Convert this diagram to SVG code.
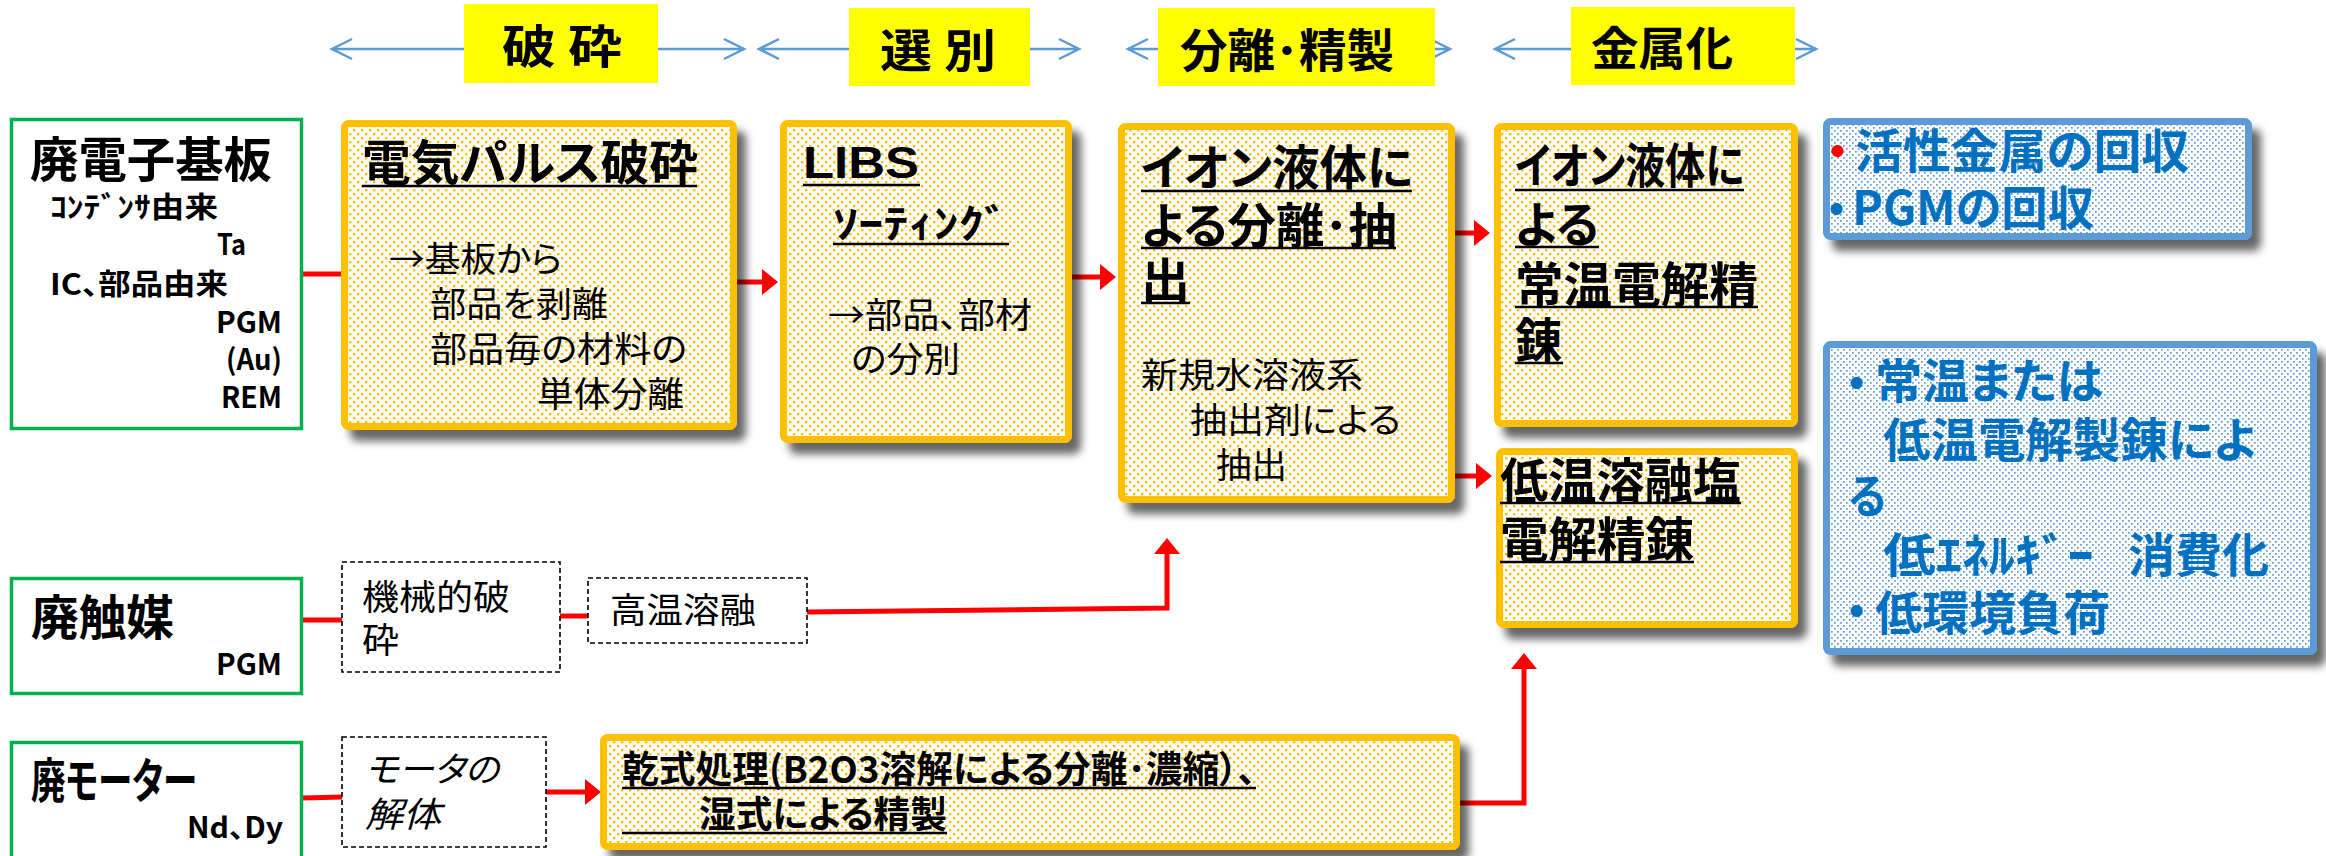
<svg xmlns="http://www.w3.org/2000/svg" width="2326" height="856" viewBox="0 0 2326 856">
<defs>
<style>
text{font-family:"Noto Sans CJK JP","Noto Sans CJK SC",sans-serif;font-feature-settings:"palt" 1;}
.b{font-weight:bold;}
.t48{font-size:48px;font-weight:bold;}
.t46{font-size:46px;font-weight:bold;}
.t29{font-size:29px;font-weight:bold;}
.t35{font-size:35px;}
.t37{font-size:37px;font-weight:bold;}
.blue{fill:#0070C0;font-size:47px;font-weight:bold;}
.green{fill:#fff;stroke:#00B050;stroke-width:3.5;}
.orange{fill:url(#dotO);stroke:#FFC000;stroke-width:7;filter:url(#sh);}
.bluebox{fill:url(#dotB);stroke:#5B9BD5;stroke-width:7;filter:url(#sh);}
.dash{fill:#fff;stroke:#000;stroke-width:1.6;stroke-dasharray:5 3;}
.yellow{fill:#FFFF00;}
.ul{stroke:#000;stroke-width:2.5;}
.red{fill:none;stroke:#FF0000;stroke-width:5;}
.hdr{fill:none;stroke:#5B9BD5;stroke-width:2.5;}
</style>
<pattern id="dotO" width="8" height="8" patternUnits="userSpaceOnUse">
<rect width="8" height="8" fill="#fff"/>
<rect x="1" y="1" width="2.4" height="2.4" fill="#FFC000"/>
<rect x="5" y="5" width="2.4" height="2.4" fill="#FFC000"/>
</pattern>
<pattern id="dotB" width="6" height="6" patternUnits="userSpaceOnUse">
<rect width="6" height="6" fill="#fff"/>
<rect x="1" y="1" width="1.7" height="1.7" fill="#5B9BD5"/>
<rect x="4" y="4" width="1.7" height="1.7" fill="#5B9BD5"/>
</pattern>
<filter id="sh" x="-10%" y="-10%" width="130%" height="140%">
<feDropShadow dx="9" dy="11" stdDeviation="4" flood-color="#000" flood-opacity="0.6"/>
</filter>
<marker id="ah" markerUnits="userSpaceOnUse" markerWidth="18" markerHeight="28" refX="0" refY="13" orient="auto">
<path d="M0,0 L16,13 L0,26 Z" fill="#FF0000"/>
</marker>
</defs>

<g id="header">
<path class="hdr" d="M332,49 H744 M352,39 L332,49 L352,59 M724,39 L744,49 L724,59"/>
<path class="hdr" d="M759,49 H1079 M779,39 L759,49 L779,59 M1059,39 L1079,49 L1059,59"/>
<path class="hdr" d="M1128,49 H1450 M1148,39 L1128,49 L1148,59 M1430,39 L1450,49 L1430,59"/>
<path class="hdr" d="M1495,49 H1816 M1515,39 L1495,49 L1515,59 M1796,39 L1816,49 L1796,59"/>
<g id="stage-crush"><rect class="yellow" x="464" y="4" width="194" height="79"/><text class="t46" x="502" y="63" textLength="120" lengthAdjust="spacingAndGlyphs">破 砕</text></g>
<g id="stage-sort"><rect class="yellow" x="849" y="8" width="181" height="78"/><text class="t46" x="880" y="67" textLength="116" lengthAdjust="spacingAndGlyphs">選 別</text></g>
<g id="stage-sep"><rect class="yellow" x="1158" y="8" width="277" height="78"/><text class="t46" x="1180" y="67" textLength="214" lengthAdjust="spacingAndGlyphs">分離･精製</text></g>
<g id="stage-metal"><rect class="yellow" x="1571" y="7" width="224" height="78"/><text class="t46" x="1591" y="65" textLength="142" lengthAdjust="spacingAndGlyphs">金属化</text></g>
</g>

<g id="connectors">
<path class="red" d="M303,274 H341"/>
<path class="red" d="M737,282 H762" marker-end="url(#ah)"/>
<path class="red" d="M1072,277 H1100" marker-end="url(#ah)"/>
<path class="red" d="M1455,233 H1474" marker-end="url(#ah)"/>
<path class="red" d="M1455,476 H1476" marker-end="url(#ah)"/>
<path class="red" d="M303,620 H342"/>
<path class="red" d="M560,616 H588"/>
<path class="red" d="M807,612 L1167,608 V554" marker-end="url(#ah)"/>
<path class="red" d="M303,798 L342,797"/>
<path class="red" d="M546,792 H585" marker-end="url(#ah)"/>
<path class="red" d="M1460,803 H1524 V669" marker-end="url(#ah)"/>
</g>

<g id="n-pcb">
<rect class="green" x="11.5" y="119.5" width="290" height="309"/>
<text class="t48" x="30" y="177" textLength="242" lengthAdjust="spacingAndGlyphs">廃電子基板</text>
<text class="t29" x="50" y="218" textLength="168" lengthAdjust="spacingAndGlyphs">ｺﾝﾃﾞﾝｻ由来</text>
<text class="t29" x="217" y="255" textLength="29" lengthAdjust="spacingAndGlyphs">Ta</text>
<text class="t29" x="50" y="295" textLength="178" lengthAdjust="spacingAndGlyphs">IC、部品由来</text>
<text class="t29" x="216" y="333" textLength="66" lengthAdjust="spacingAndGlyphs">PGM</text>
<text class="t29" x="226" y="370" textLength="56" lengthAdjust="spacingAndGlyphs">(Au)</text>
<text class="t29" x="221" y="408" textLength="61" lengthAdjust="spacingAndGlyphs">REM</text>
</g>

<g id="n-catalyst">
<rect class="green" x="11.5" y="578.5" width="290" height="115"/>
<text class="t48" x="31" y="635" textLength="143" lengthAdjust="spacingAndGlyphs">廃触媒</text>
<text class="t29" x="216" y="675" textLength="66" lengthAdjust="spacingAndGlyphs">PGM</text>
</g>

<g id="n-motor">
<rect class="green" x="11.5" y="742.5" width="290" height="130"/>
<text class="t48" x="31" y="798" textLength="166" lengthAdjust="spacingAndGlyphs">廃モーター</text>
<text class="t29" x="187" y="838" textLength="96" lengthAdjust="spacingAndGlyphs">Nd、Dy</text>
</g>

<g id="n-mech">
<rect class="dash" x="342" y="562" width="218" height="110"/>
<text class="t35" x="362" y="610" textLength="148" lengthAdjust="spacingAndGlyphs">機械的破</text>
<text class="t35" x="362" y="653" textLength="37" lengthAdjust="spacingAndGlyphs">砕</text>
</g>

<g id="n-melt">
<rect class="dash" x="588" y="578" width="219" height="65"/>
<text class="t35" x="610" y="623" textLength="146" lengthAdjust="spacingAndGlyphs">高温溶融</text>
</g>

<g id="n-dismantle">
<rect class="dash" x="342" y="737" width="204" height="110"/>
<text class="t35" x="365" y="782" font-style="italic" textLength="134" lengthAdjust="spacingAndGlyphs">モータの</text>
<text class="t35" x="365" y="827" font-style="italic" textLength="76" lengthAdjust="spacingAndGlyphs">解体</text>
</g>

<g id="n-pulse">
<rect class="orange" x="344.5" y="123.5" width="389" height="303" rx="4"/>
<text class="t48" x="362" y="180" textLength="336" lengthAdjust="spacingAndGlyphs">電気パルス破砕</text>
<line class="ul" x1="362" y1="186" x2="697" y2="186"/>
<text class="t35" x="389" y="272" textLength="173" lengthAdjust="spacingAndGlyphs">→基板から</text>
<text class="t35" x="430" y="317" textLength="178" lengthAdjust="spacingAndGlyphs">部品を剥離</text>
<text class="t35" x="430" y="362" textLength="257" lengthAdjust="spacingAndGlyphs">部品毎の材料の</text>
<text class="t35" x="537" y="407" textLength="147" lengthAdjust="spacingAndGlyphs">単体分離</text>
</g>

<g id="n-libs">
<rect class="orange" x="783.5" y="123.5" width="285" height="316" rx="4"/>
<text x="803" y="178" font-size="44" font-weight="bold" style="font-family:'Liberation Sans',Arial,sans-serif" textLength="116" lengthAdjust="spacingAndGlyphs">LIBS</text>
<line class="ul" x1="803" y1="185" x2="920" y2="185"/>
<text class="b" x="833" y="238" font-size="40" textLength="176" lengthAdjust="spacingAndGlyphs">ｿｰﾃｨﾝｸﾞ</text>
<line class="ul" x1="833" y1="244" x2="1009" y2="244"/>
<text class="t35" x="828" y="328" textLength="204" lengthAdjust="spacingAndGlyphs">→部品、部材</text>
<text class="t35" x="851" y="372" textLength="109" lengthAdjust="spacingAndGlyphs">の分別</text>
</g>

<g id="n-ionic-sep">
<rect class="orange" x="1121.5" y="126.5" width="330" height="373" rx="4"/>
<text class="t48" x="1141" y="185" font-size="47" textLength="272" lengthAdjust="spacingAndGlyphs">イオン液体に</text>
<line class="ul" x1="1141" y1="191" x2="1412" y2="191"/>
<text class="t48" x="1141" y="243" textLength="256" lengthAdjust="spacingAndGlyphs">よる分離･抽</text>
<line class="ul" x1="1141" y1="248" x2="1396" y2="248"/>
<text class="t48" x="1141" y="298" textLength="49" lengthAdjust="spacingAndGlyphs">出</text>
<line class="ul" x1="1141" y1="303" x2="1190" y2="303"/>
<text class="t35" x="1141" y="388" textLength="222" lengthAdjust="spacingAndGlyphs">新規水溶液系</text>
<text class="t35" x="1190" y="433" textLength="211" lengthAdjust="spacingAndGlyphs">抽出剤による</text>
<text class="t35" x="1216" y="478" textLength="71" lengthAdjust="spacingAndGlyphs">抽出</text>
</g>

<g id="n-ionic-ref">
<rect class="orange" x="1497.5" y="126.5" width="297" height="297" rx="4"/>
<text class="t48" x="1515" y="183" textLength="229" lengthAdjust="spacingAndGlyphs">イオン液体に</text>
<line class="ul" x1="1515" y1="190" x2="1744" y2="190"/>
<text class="t48" x="1515" y="242" textLength="84" lengthAdjust="spacingAndGlyphs">よる</text>
<line class="ul" x1="1515" y1="247" x2="1599" y2="247"/>
<text class="t48" x="1515" y="302" textLength="243" lengthAdjust="spacingAndGlyphs">常温電解精</text>
<line class="ul" x1="1515" y1="307" x2="1758" y2="307"/>
<text class="t48" x="1515" y="358" textLength="47" lengthAdjust="spacingAndGlyphs">錬</text>
<line class="ul" x1="1515" y1="363" x2="1563" y2="363"/>
</g>

<g id="n-salt">
<rect class="orange" x="1499.5" y="451.5" width="295" height="173" rx="4"/>
<text class="t48" x="1500" y="498" textLength="241" lengthAdjust="spacingAndGlyphs">低温溶融塩</text>
<line class="ul" x1="1500" y1="503" x2="1741" y2="503"/>
<text class="t48" x="1500" y="557" textLength="194" lengthAdjust="spacingAndGlyphs">電解精錬</text>
<line class="ul" x1="1500" y1="562" x2="1694" y2="562"/>
</g>

<g id="n-dry">
<rect class="orange" x="603.5" y="737.5" width="853" height="109" rx="4"/>
<text class="t37" x="622" y="783" textLength="634" lengthAdjust="spacingAndGlyphs">乾式処理(B2O3溶解による分離･濃縮）、</text>
<line class="ul" x1="622" y1="788" x2="1256" y2="788"/>
<text class="t37" x="699" y="828" textLength="248" lengthAdjust="spacingAndGlyphs">湿式による精製</text>
<line class="ul" x1="622" y1="833" x2="947" y2="833"/>
</g>

<g id="n-recover">
<rect class="bluebox" x="1826.5" y="121.5" width="422" height="115" rx="4"/>
<text x="1814" y="169" font-size="47" font-weight="bold" fill="#FF0000" style="font-feature-settings:normal">・</text>
<text class="blue" x="1855" y="168" textLength="334" lengthAdjust="spacingAndGlyphs">活性金属の回収</text>
<text class="blue" x="1813" y="227" style="font-feature-settings:normal">・</text>
<text class="blue" x="1852" y="225" textLength="242" lengthAdjust="spacingAndGlyphs">PGMの回収</text>
</g>

<g id="n-benefit">
<rect class="bluebox" x="1826.5" y="344.5" width="487" height="307" rx="4"/>
<text class="blue" x="1833" y="401" style="font-feature-settings:normal">・</text>
<text class="blue" x="1875" y="398" textLength="228" lengthAdjust="spacingAndGlyphs">常温または</text>
<text class="blue" x="1883" y="457" textLength="373" lengthAdjust="spacingAndGlyphs">低温電解製錬によ</text>
<text class="blue" x="1848" y="513" textLength="38" lengthAdjust="spacingAndGlyphs">る</text>
<text class="blue" x="1883" y="572" textLength="211" lengthAdjust="spacingAndGlyphs">低ｴﾈﾙｷﾞｰ</text>
<text class="blue" x="2128" y="572" textLength="141" lengthAdjust="spacingAndGlyphs">消費化</text>
<text class="blue" x="1833" y="629" style="font-feature-settings:normal">・</text>
<text class="blue" x="1875" y="630" textLength="235" lengthAdjust="spacingAndGlyphs">低環境負荷</text>
</g>
</svg>
